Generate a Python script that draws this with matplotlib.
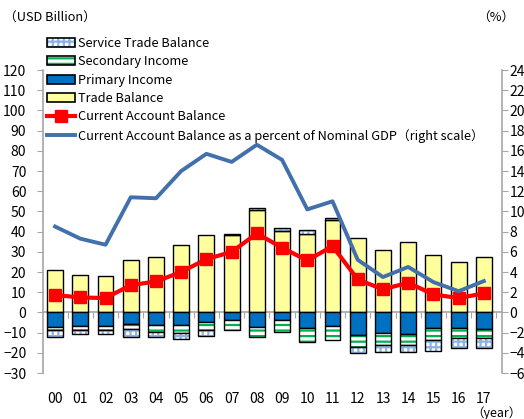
import matplotlib
matplotlib.use("Agg")
import matplotlib.pyplot as plt
import numpy as np
from matplotlib.patches import Patch
from matplotlib.lines import Line2D
from matplotlib.legend_handler import HandlerTuple

years = ["00","01","02","03","04","05","06","07","08","09","10","11","12","13","14","15","16","17"]
trade = [21.0,18.3,18.2,25.7,27.4,33.2,38.3,38.3,50.7,40.4,38.6,45.9,37.0,30.9,35.0,28.2,24.8,27.4]
primary = [-7.3,-6.6,-6.6,-5.6,-6.1,-6.1,-4.6,-4.0,-7.1,-3.8,-7.8,-6.8,-11.2,-10.4,-10.9,-7.9,-7.9,-8.4]
secondary = [-1.5,-2.1,-2.1,-2.7,-3.8,-4.3,-4.1,-4.7,-4.9,-5.8,-7.1,-6.9,-5.8,-5.6,-5.3,-5.8,-5.0,-4.1]
service = [-3.6,-2.2,-2.2,-4.1,-2.5,-2.6,-3.2,0.5,0.8,1.3,2.2,0.8,-3.3,-3.5,-3.6,-5.4,-4.6,-5.3]
current = [8.6,7.4,7.1,13.5,15.3,20.0,26.4,29.9,39.1,32.0,25.7,32.8,16.3,11.4,14.7,8.9,7.1,9.4]
ca_gdp = [8.5,7.3,6.7,11.4,11.3,14.0,15.7,14.9,16.6,15.1,10.2,11.0,5.2,3.5,4.5,3.0,2.1,3.1]

plt.rcParams['font.family'] = ['Noto Sans CJK JP', 'DejaVu Sans']
plt.rcParams['hatch.linewidth'] = 1.6

W, H = 524, 419
fig = plt.figure(figsize=(W/100, H/100), dpi=100)
ax = fig.add_axes([43/W, 1-373/H, (502-43)/W, (373-70)/H])
ax2 = ax.twinx()

x = np.arange(len(years))
bw = 0.63
yellow = "#FFFF9E"
blue = "#0070C0"
green = "#00B050"
svc = "#8DB3E2"

trade = np.array(trade); primary = np.array(primary)
secondary = np.array(secondary); service = np.array(service)

ax.bar(x, trade, bw, color=yellow, edgecolor="black", linewidth=1.0, zorder=2)
ax.bar(x, primary, bw, color=blue, edgecolor="black", linewidth=1.0, zorder=2)
ax.bar(x, secondary, bw, bottom=primary, color="white", edgecolor=green, hatch="---", linewidth=0, zorder=2)
ax.bar(x, secondary, bw, bottom=primary, fill=False, edgecolor="black", linewidth=1.0, zorder=2)
svc_bottom = np.where(service >= 0, trade, primary + secondary)
ax.bar(x, service, bw, bottom=svc_bottom, color="white", edgecolor=svc, hatch="+++", linewidth=0, zorder=2)
ax.bar(x, service, bw, bottom=svc_bottom, fill=False, edgecolor="black", linewidth=1.0, zorder=2)

ax.plot(x, current, color="#FF0000", lw=3, marker="s", ms=9, zorder=5)
ax2.plot(x, ca_gdp, color="#4170AC", lw=2.8, zorder=4)

ax.set_xlim(-0.48, 17.72)
ax.set_ylim(-30, 120)
ax2.set_ylim(-6, 24)
ax.set_yticks(np.arange(-30, 121, 10))
ax2.set_yticks(np.arange(-6, 25, 2))

for s in ["top", "bottom"]:
    ax.spines[s].set_visible(False)
    ax2.spines[s].set_visible(False)
ax2.spines["left"].set_visible(False)
ax.spines["right"].set_visible(False)
ax.spines["left"].set_color("#A6A6A6")
ax2.spines["right"].set_color("#A6A6A6")
ax.spines["left"].set_linewidth(1.2)
ax2.spines["right"].set_linewidth(1.2)
ax.tick_params(axis="y", direction="out", length=4, color="#A6A6A6", labelsize=10, pad=8)
ax2.tick_params(axis="y", direction="out", length=4, color="#A6A6A6", labelsize=10, pad=1.5)
ax.set_xticks(x)
ax.set_xticklabels(years)
ax.tick_params(axis="x", length=0, labelsize=10, pad=14)

sec = ax.secondary_xaxis(0.2)
sec.spines["bottom"].set_color("#A6A6A6")
sec.spines["bottom"].set_linewidth(1.2)
sec.set_xticks(np.arange(-0.5, 18, 1))
sec.set_xticklabels([])
sec.tick_params(axis="x", direction="out", length=4, color="#A6A6A6")

fig.text(4/W, 1-18/H, "（USD Billion）", fontsize=9.2, va="center", ha="left")
fig.text(514/W, 1-18/H, "（%）", fontsize=9.2, va="center", ha="right")
fig.text(522/W, 1-413/H, "（year）", fontsize=9, va="center", ha="right")

def boxed(face, edge, hatch=None):
    if hatch:
        inner = Patch(facecolor=face, edgecolor=edge, hatch=hatch, linewidth=0)
        outer = Patch(facecolor="none", edgecolor="black", linewidth=1.2)
        return (inner, outer)
    return Patch(facecolor=face, edgecolor="black", linewidth=1.2)

handles = [
    boxed("white", svc, "+++"),
    boxed("white", green, "---"),
    boxed(blue, "black"),
    boxed(yellow, "black"),
    Line2D([], [], color="#FF0000", lw=3, marker="s", ms=9),
    Line2D([], [], color="#4170AC", lw=2.8),
]
labels = ["Service Trade Balance", "Secondary Income", "Primary Income", "Trade Balance",
          "Current Account Balance",
          "Current Account Balance as a percent of Nominal GDP（right scale）"]
leg = fig.legend(handles, labels, loc="upper left", bbox_to_anchor=(47/W, 1-37/H),
                 frameon=False, fontsize=9.2, handlelength=2.2, handleheight=0.7,
                 handletextpad=0.25, labelspacing=0.42, borderpad=0, borderaxespad=0,
                 handler_map={tuple: HandlerTuple(ndivide=1)})

fig.savefig("out.png", dpi=100)
